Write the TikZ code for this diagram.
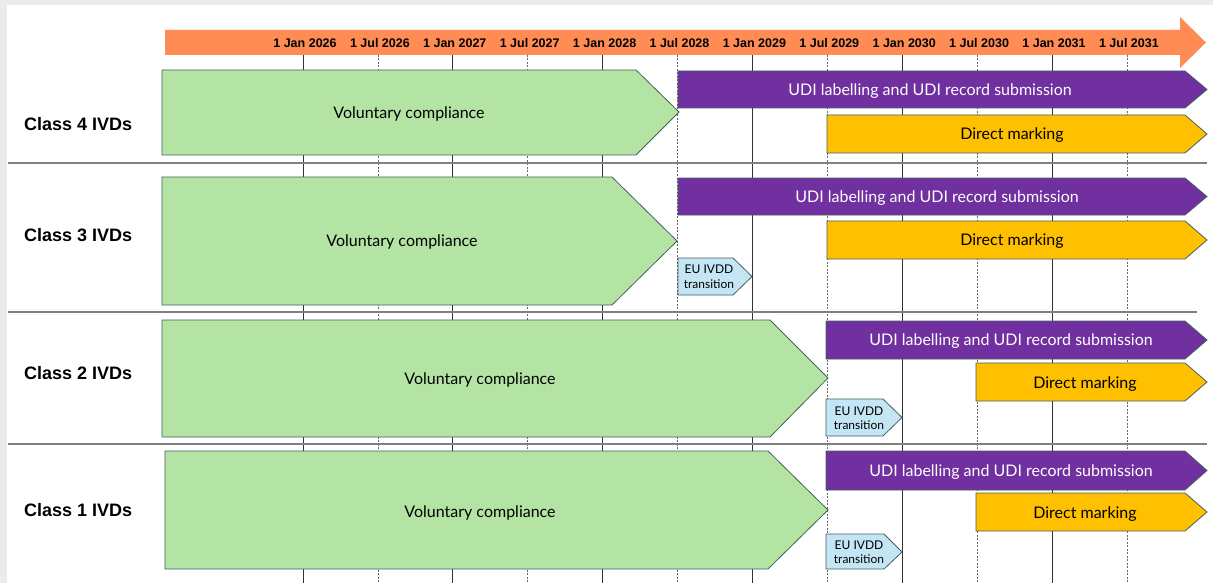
\documentclass[tikz,border=0pt]{standalone}
\usepackage{fontspec}
\setmainfont{Liberation Sans}
\newfontfamily\bodyfont{Lato}
\definecolor{hdr}{HTML}{FF8C55}
\definecolor{vgreen}{HTML}{B4E4A4}
\definecolor{udi}{HTML}{7030A0}
\definecolor{dm}{HTML}{FFC000}
\definecolor{eu}{HTML}{C3E5F4}
\definecolor{edge}{HTML}{44605F}
\definecolor{frame}{HTML}{EBEBEB}
\begin{document}
\begin{tikzpicture}[x=1pt,y=-1pt,
  bar/.style={draw=edge,line width=0.8pt,line join=miter},
  jan/.style={draw=black!80,line width=0.7pt},
  jul/.style={draw=black!60,line width=0.7pt,dash pattern=on 2pt off 1.5pt},
  sep/.style={draw=black!50,line width=1.6pt},
  datelbl/.style={font=\bfseries\fontsize{12.5}{14}\selectfont,inner sep=0pt},
  classlbl/.style={font=\bfseries\fontsize{18}{21}\selectfont,anchor=west,inner sep=0pt},
  gtxt/.style={font=\bodyfont\fontsize{16}{18}\selectfont,inner sep=0pt},
  wtxt/.style={font=\bodyfont\fontsize{16}{18}\selectfont,text=white,inner sep=0pt},
  ytxt/.style={font=\bodyfont\fontsize{16}{18}\selectfont,inner sep=0pt},
  etxt/.style={font=\bodyfont\fontsize{12}{14.5}\selectfont,align=center,inner sep=0pt}]
\useasboundingbox (0,0) rectangle (1213,583);
\fill[white] (0,0) rectangle (1213,583);
\fill[frame] (0,0) rectangle (1213,5);
\fill[frame] (0,0) rectangle (7,583);
% tick lines
\foreach \k in {0,2,...,10}{\draw[jan] ({303+74.9*\k},55) -- ({303+74.9*\k},583);}
\foreach \k in {1,3,...,11}{\draw[jul] ({303+74.9*\k},55) -- ({303+74.9*\k},583);}
% separators
\draw[sep] (8,163) -- (1207,163);
\draw[sep] (8,312) -- (1197,312);
\draw[sep] (8,444) -- (1207,444);
% header arrow
\fill[hdr] (165,30) -- (1180,30) -- (1180,17) -- (1206,42.5) -- (1180,68) -- (1180,55) -- (165,55) -- cycle;
\foreach \k/\t in {0/1 Jan 2026,1/1 Jul 2026,2/1 Jan 2027,3/1 Jul 2027,4/1 Jan 2028,5/1 Jul 2028,6/1 Jan 2029,7/1 Jul 2029,8/1 Jan 2030,9/1 Jul 2030,10/1 Jan 2031,11/1 Jul 2031}
  \node[datelbl] (d\k) at ({305+74.9*\k},43.5) {\t};
% class labels
\node[classlbl] (c4) at (24,124) {Class 4 IVDs};
\node[classlbl] (c3) at (24,235) {Class 3 IVDs};
\node[classlbl] (c2) at (24,373) {Class 2 IVDs};
\node[classlbl] (c1) at (24,510) {Class 1 IVDs};
% Class 4
\draw[bar,fill=vgreen] (162,70) -- (636,70) -- (679,112) -- (636,155) -- (162,155) -- cycle;
\node[gtxt] (v4) at (409,114) {Voluntary compliance};
\draw[bar,fill=udi] (678,71) -- (1185,71) -- (1207,89.5) -- (1185,108) -- (678,108) -- cycle;
\node[wtxt] (u4) at (930,91) {UDI labelling and UDI record submission};
\draw[bar,fill=dm] (827,115) -- (1185,115) -- (1207,134) -- (1185,153) -- (827,153) -- cycle;
\node[ytxt] (m4) at (1012,135) {Direct marking};
% Class 3
\draw[bar,fill=vgreen] (162,177) -- (612,177) -- (677,241) -- (612,305) -- (162,305) -- cycle;
\node[gtxt] (v3) at (402,242) {Voluntary compliance};
\draw[bar,fill=udi] (678,178) -- (1185,178) -- (1207,196.5) -- (1185,215) -- (678,215) -- cycle;
\node[wtxt] (u3) at (937,198) {UDI labelling and UDI record submission};
\draw[bar,fill=dm] (827,221) -- (1185,221) -- (1207,240) -- (1185,259) -- (827,259) -- cycle;
\node[ytxt] (m3) at (1012,241.5) {Direct marking};
\draw[bar,fill=eu] (678,258) -- (733,258) -- (752,276.5) -- (733,295) -- (678,295) -- cycle;
\node[etxt] (e3) at (709,276.5) {EU IVDD\\transition};
% Class 2
\draw[bar,fill=vgreen] (162,320) -- (770,320) -- (828,378) -- (770,437) -- (162,437) -- cycle;
\node[gtxt] (v2) at (480,380) {Voluntary compliance};
\draw[bar,fill=udi] (826,321) -- (1185,321) -- (1207,340) -- (1185,359) -- (826,359) -- cycle;
\node[wtxt] (u2) at (1011,341) {UDI labelling and UDI record submission};
\draw[bar,fill=dm] (976,363) -- (1185,363) -- (1207,382) -- (1185,401) -- (976,401) -- cycle;
\node[ytxt] (m2) at (1085,384) {Direct marking};
\draw[bar,fill=eu] (826,399) -- (883,399) -- (902,417.5) -- (883,436) -- (826,436) -- cycle;
\node[etxt] (e2) at (859,418) {EU IVDD\\transition};
% Class 1
\draw[bar,fill=vgreen] (165,451) -- (768,451) -- (828,510) -- (768,569) -- (165,569) -- cycle;
\node[gtxt] (v1) at (480,513) {Voluntary compliance};
\draw[bar,fill=udi] (826,451) -- (1185,451) -- (1207,470.5) -- (1185,490) -- (826,490) -- cycle;
\node[wtxt] (u1) at (1011,472) {UDI labelling and UDI record submission};
\draw[bar,fill=dm] (976,493) -- (1185,493) -- (1207,512) -- (1185,531) -- (976,531) -- cycle;
\node[ytxt] (m1) at (1085,514) {Direct marking};
\draw[bar,fill=eu] (826,534) -- (884,534) -- (902,552) -- (884,569) -- (826,569) -- cycle;
\node[etxt] (e1) at (859,552) {EU IVDD\\transition};
\end{tikzpicture}
\end{document}
